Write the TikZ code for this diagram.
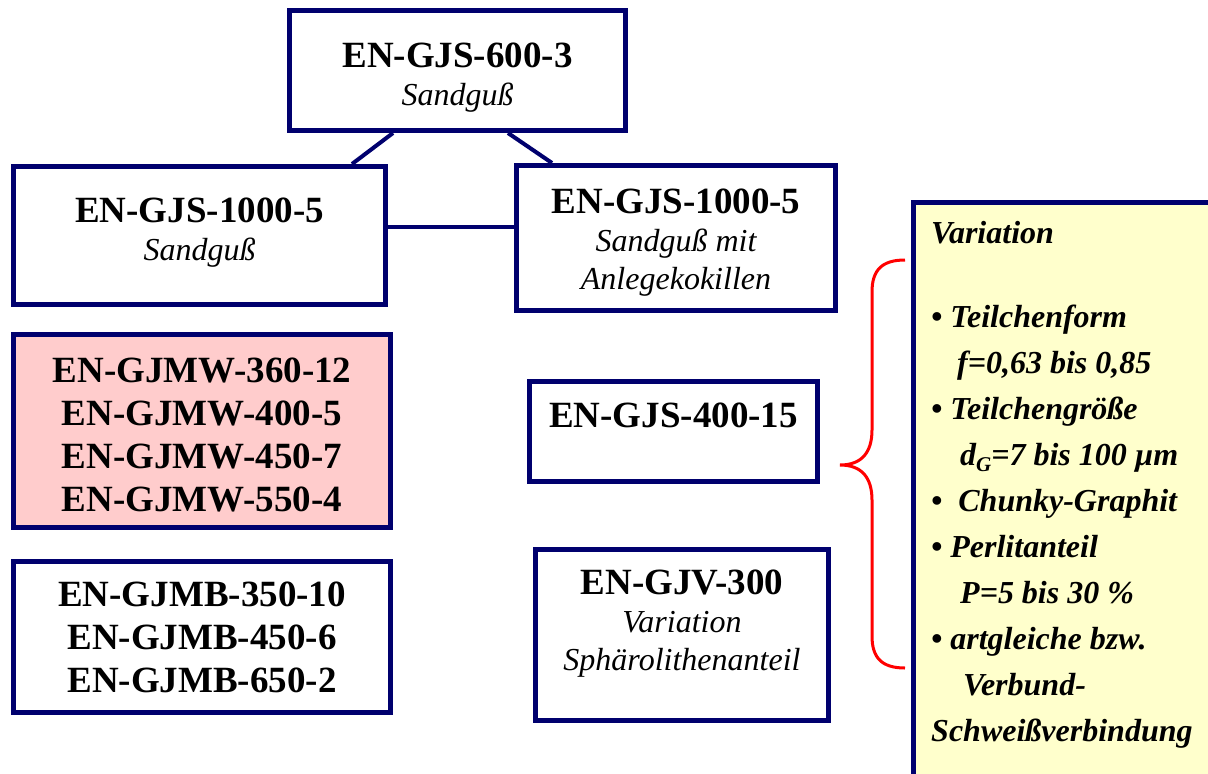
\documentclass[tikz,border=0pt]{standalone}
\usepackage{fontspec}
\setmainfont{Liberation Serif}
\usepackage{tikz}

\definecolor{boxblue}{RGB}{0,0,110}
\definecolor{notepink}{RGB}{255,204,204}
\definecolor{noteyellow}{RGB}{255,255,204}

\newcommand{\subline}[1]{{\normalfont\itshape\fontsize{32}{38}\selectfont #1}}
\newcommand{\strutup}[1]{\rule{0pt}{#1}}
\newcommand{\strutdown}[1]{\rule[-#1]{0pt}{#1}}

\begin{document}
\begin{tikzpicture}[x = 1pt, y = -1pt,
    matbox/.style = {draw = boxblue, line width = 5pt, fill = white, inner sep = 0pt, align = center, font = \bfseries\fontsize{37}{38}\selectfont},
    listbox/.style = {matbox, font = \bfseries\fontsize{37}{43}\selectfont},
    link/.style = {draw = boxblue, line width = 4pt}]
    \useasboundingbox (0, 0) rectangle (1208, 774);
    \clip (0, 0) rectangle (1208, 774);
    % note on the right, cut by the page edge
    \filldraw [fill = noteyellow, draw = boxblue, line width = 5pt] (913.5, 202.5) rectangle (1240, 800);
    \node [anchor = north west, inner sep = 0pt, align = left, font = \bfseries\itshape\fontsize{32}{46}\selectfont] (var) at (931, 219) {\strutup{24pt}Variation\\[38pt]
        \textbullet\ Teilchenform\\
        \hspace*{26pt}f=0,63 bis 0,85\\
        \textbullet\ Teilchengröße\\
        \hspace*{29pt}d\raisebox{-6pt}{\fontsize{21}{21}\selectfont G}=7 bis 100 µm\\
        \textbullet\ \ Chunky-Graphit\\
        \textbullet\ Perlitanteil\\
        \hspace*{29pt}P=5 bis 30 \%\\
        \textbullet\ artgleiche bzw.\\
        \hspace*{32pt}Verbund-\\
        Schweißverbindung};
    \draw [red, line width = 3pt] (905, 260) .. controls (882, 260) and (872, 270) .. (872, 292) -- (872, 430) .. controls (872, 452) and (862, 465) .. (840, 465) .. controls (862, 465) and (872, 478) .. (872, 500) -- (872, 636) .. controls (872, 658) and (882, 668) .. (905, 668);
    % boxes
    \node [matbox, minimum width = 336pt, minimum height = 120pt] (top) at (457.5, 70.5) {\strutup{38pt}EN-GJS-600-3\\\subline{Sandguß}};
    \node [matbox, minimum width = 372pt, minimum height = 138pt] (gjsa) at (199.5, 235.5) {EN-GJS-1000-5\\\subline{Sandguß}\strutdown{12pt}};
    \node [matbox, minimum width = 319pt, minimum height = 145pt] (gjsb) at (676, 238) {\strutup{33pt}EN-GJS-1000-5\\\subline{Sandguß mit}\\\subline{Anlegekokillen}};
    \node [listbox, fill = notepink, minimum width = 377pt, minimum height = 193pt] (gjmw) at (202, 431) {\strutup{33pt}EN-GJMW-360-12\\EN-GJMW-400-5\\EN-GJMW-450-7\\EN-GJMW-550-4};
    \node [listbox, minimum width = 377pt, minimum height = 151pt] (gjmb) at (202, 637) {EN-GJMB-350-10\\EN-GJMB-450-6\\EN-GJMB-650-2};
    \node [matbox, minimum width = 288pt, minimum height = 100pt] (gjs) at (673.5, 431.5) {EN-GJS-400-15\strutdown{32pt}};
    \node [matbox, minimum width = 293pt, minimum height = 171pt] (gjv) at (682, 635) {EN-GJV-300\\\subline{Variation}\\\subline{Sphärolithenanteil}\strutdown{29pt}};
    % links
    \draw [link] ([xshift = -64.5pt]top.south) -- ([xshift = -36pt]gjsa.north east);
    \draw [link] ([xshift = 50.5pt]top.south) -- ([xshift = 38pt]gjsb.north west);
    \draw [link] ([yshift = 8.5pt]gjsa.east) -- ([yshift = 8.5pt]gjsa.east -| gjsb.west);
\end{tikzpicture}
\end{document}
